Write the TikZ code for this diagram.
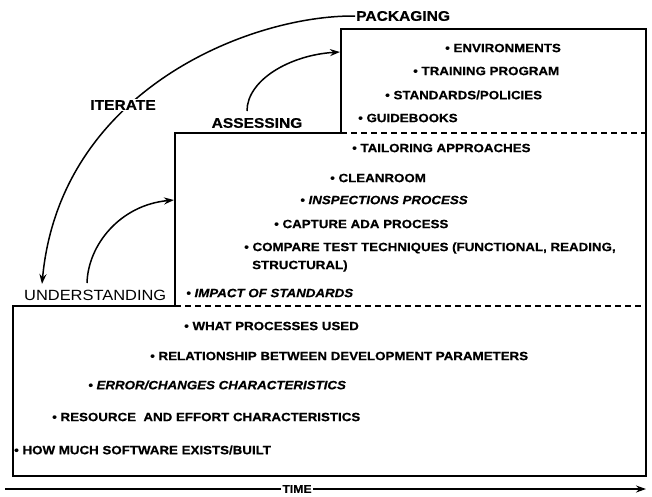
\documentclass[tikz,border=0pt]{standalone}
\usepackage{fontspec}
\setmainfont{Liberation Sans}
\newfontfamily\widefont[FakeStretch=1.11,BoldFeatures={FakeBold=0.6},BoldItalicFeatures={FakeBold=0.6}]{Liberation Sans}
\usetikzlibrary{arrows.meta}
\begin{document}
\begin{tikzpicture}[x=1pt,y=-1pt,
  box/.style={line width=1.5pt},
  sep/.style={line width=1.5pt,dash pattern=on 6pt off 4pt},
  item/.style={anchor=west,inner sep=0pt,font=\widefont\fontsize{12}{14}\selectfont\bfseries},
  itemi/.style={item,font=\widefont\fontsize{12}{14}\selectfont\bfseries\itshape},
  phase/.style={inner sep=1pt,font=\widefont\fontsize{14}{16}\selectfont\bfseries},
  flow/.style={line width=1.5pt,-{Stealth[length=10pt,width=7pt]}}]
\useasboundingbox (0,0) rectangle (652,496);
% outline
\draw[box] (13,306) -- (13,476) -- (646,476) -- (646,29) -- (341,29) -- (341,133) -- (175,133) -- (175,306) -- cycle;
\draw[sep] (341,133) -- (646,133);
\draw[sep] (175,306) -- (646,306);
% labels
\node[phase,anchor=west] (pack) at (355,16) {PACKAGING};
\node[phase] (assess) at (257,123) {ASSESSING};
\node[inner sep=1pt,anchor=west,font=\widefont\fontsize{14.8}{17}\selectfont] (und) at (23,295) {UNDERSTANDING};
\coordinate (itip) at (42,284);
\coordinate (ustart) at (87,283);
\coordinate (utip) at (174,200);
\coordinate (astart) at (247,111);
\coordinate (atip) at (340,52);
% top box
\node[item] (e1) at (445,48) {• ENVIRONMENTS};
\node[item] (e2) at (413,71) {• TRAINING PROGRAM};
\node[item] (e3) at (385,95) {• STANDARDS/POLICIES};
\node[item] (e4) at (358,118) {• GUIDEBOOKS};
% middle box
\node[item] (m1) at (352,148) {• TAILORING APPROACHES};
\node[item] (m2) at (330,178) {• CLEANROOM};
\node[itemi] (m3) at (300,200) {• INSPECTIONS PROCESS};
\node[item] (m4) at (274,224) {• CAPTURE ADA PROCESS};
\node[item] (m5) at (244,248) {• COMPARE TEST TECHNIQUES (FUNCTIONAL, READING,};
\node[item] (m5b) at (252,266) {STRUCTURAL)};
\node[itemi] (m6) at (186,293) {• IMPACT OF STANDARDS};
% bottom box
\node[item] (b1) at (184,326) {• WHAT PROCESSES USED};
\node[item] (b2) at (150,356) {• RELATIONSHIP BETWEEN DEVELOPMENT PARAMETERS};
\node[itemi] (b3) at (88,385) {• ERROR/CHANGES CHARACTERISTICS};
\node[item] (b4) at (52,417) {• RESOURCE \ AND EFFORT CHARACTERISTICS};
\node[item] (b5) at (14,450) {• HOW MUCH SOFTWARE EXISTS/BUILT};
% arrows
\draw[flow] (pack.west) .. controls (250,15) and (60,90) .. (itip);
\node[phase,fill=white] (iter) at (123,105) {ITERATE};
\draw[flow] (ustart) .. controls (88,245) and (120,205) .. (utip);
\draw[flow] (astart) .. controls (247,80) and (290,55) .. (atip);
% time
\coordinate (t0) at (5,489);
\coordinate (t1) at (646,489);
\draw[flow] (t0) -- (t1);
\node[fill=white,inner sep=1pt,font=\widefont\fontsize{11}{12}\selectfont\bfseries] (time) at (297,489) {TIME};
\end{tikzpicture}
\end{document}
